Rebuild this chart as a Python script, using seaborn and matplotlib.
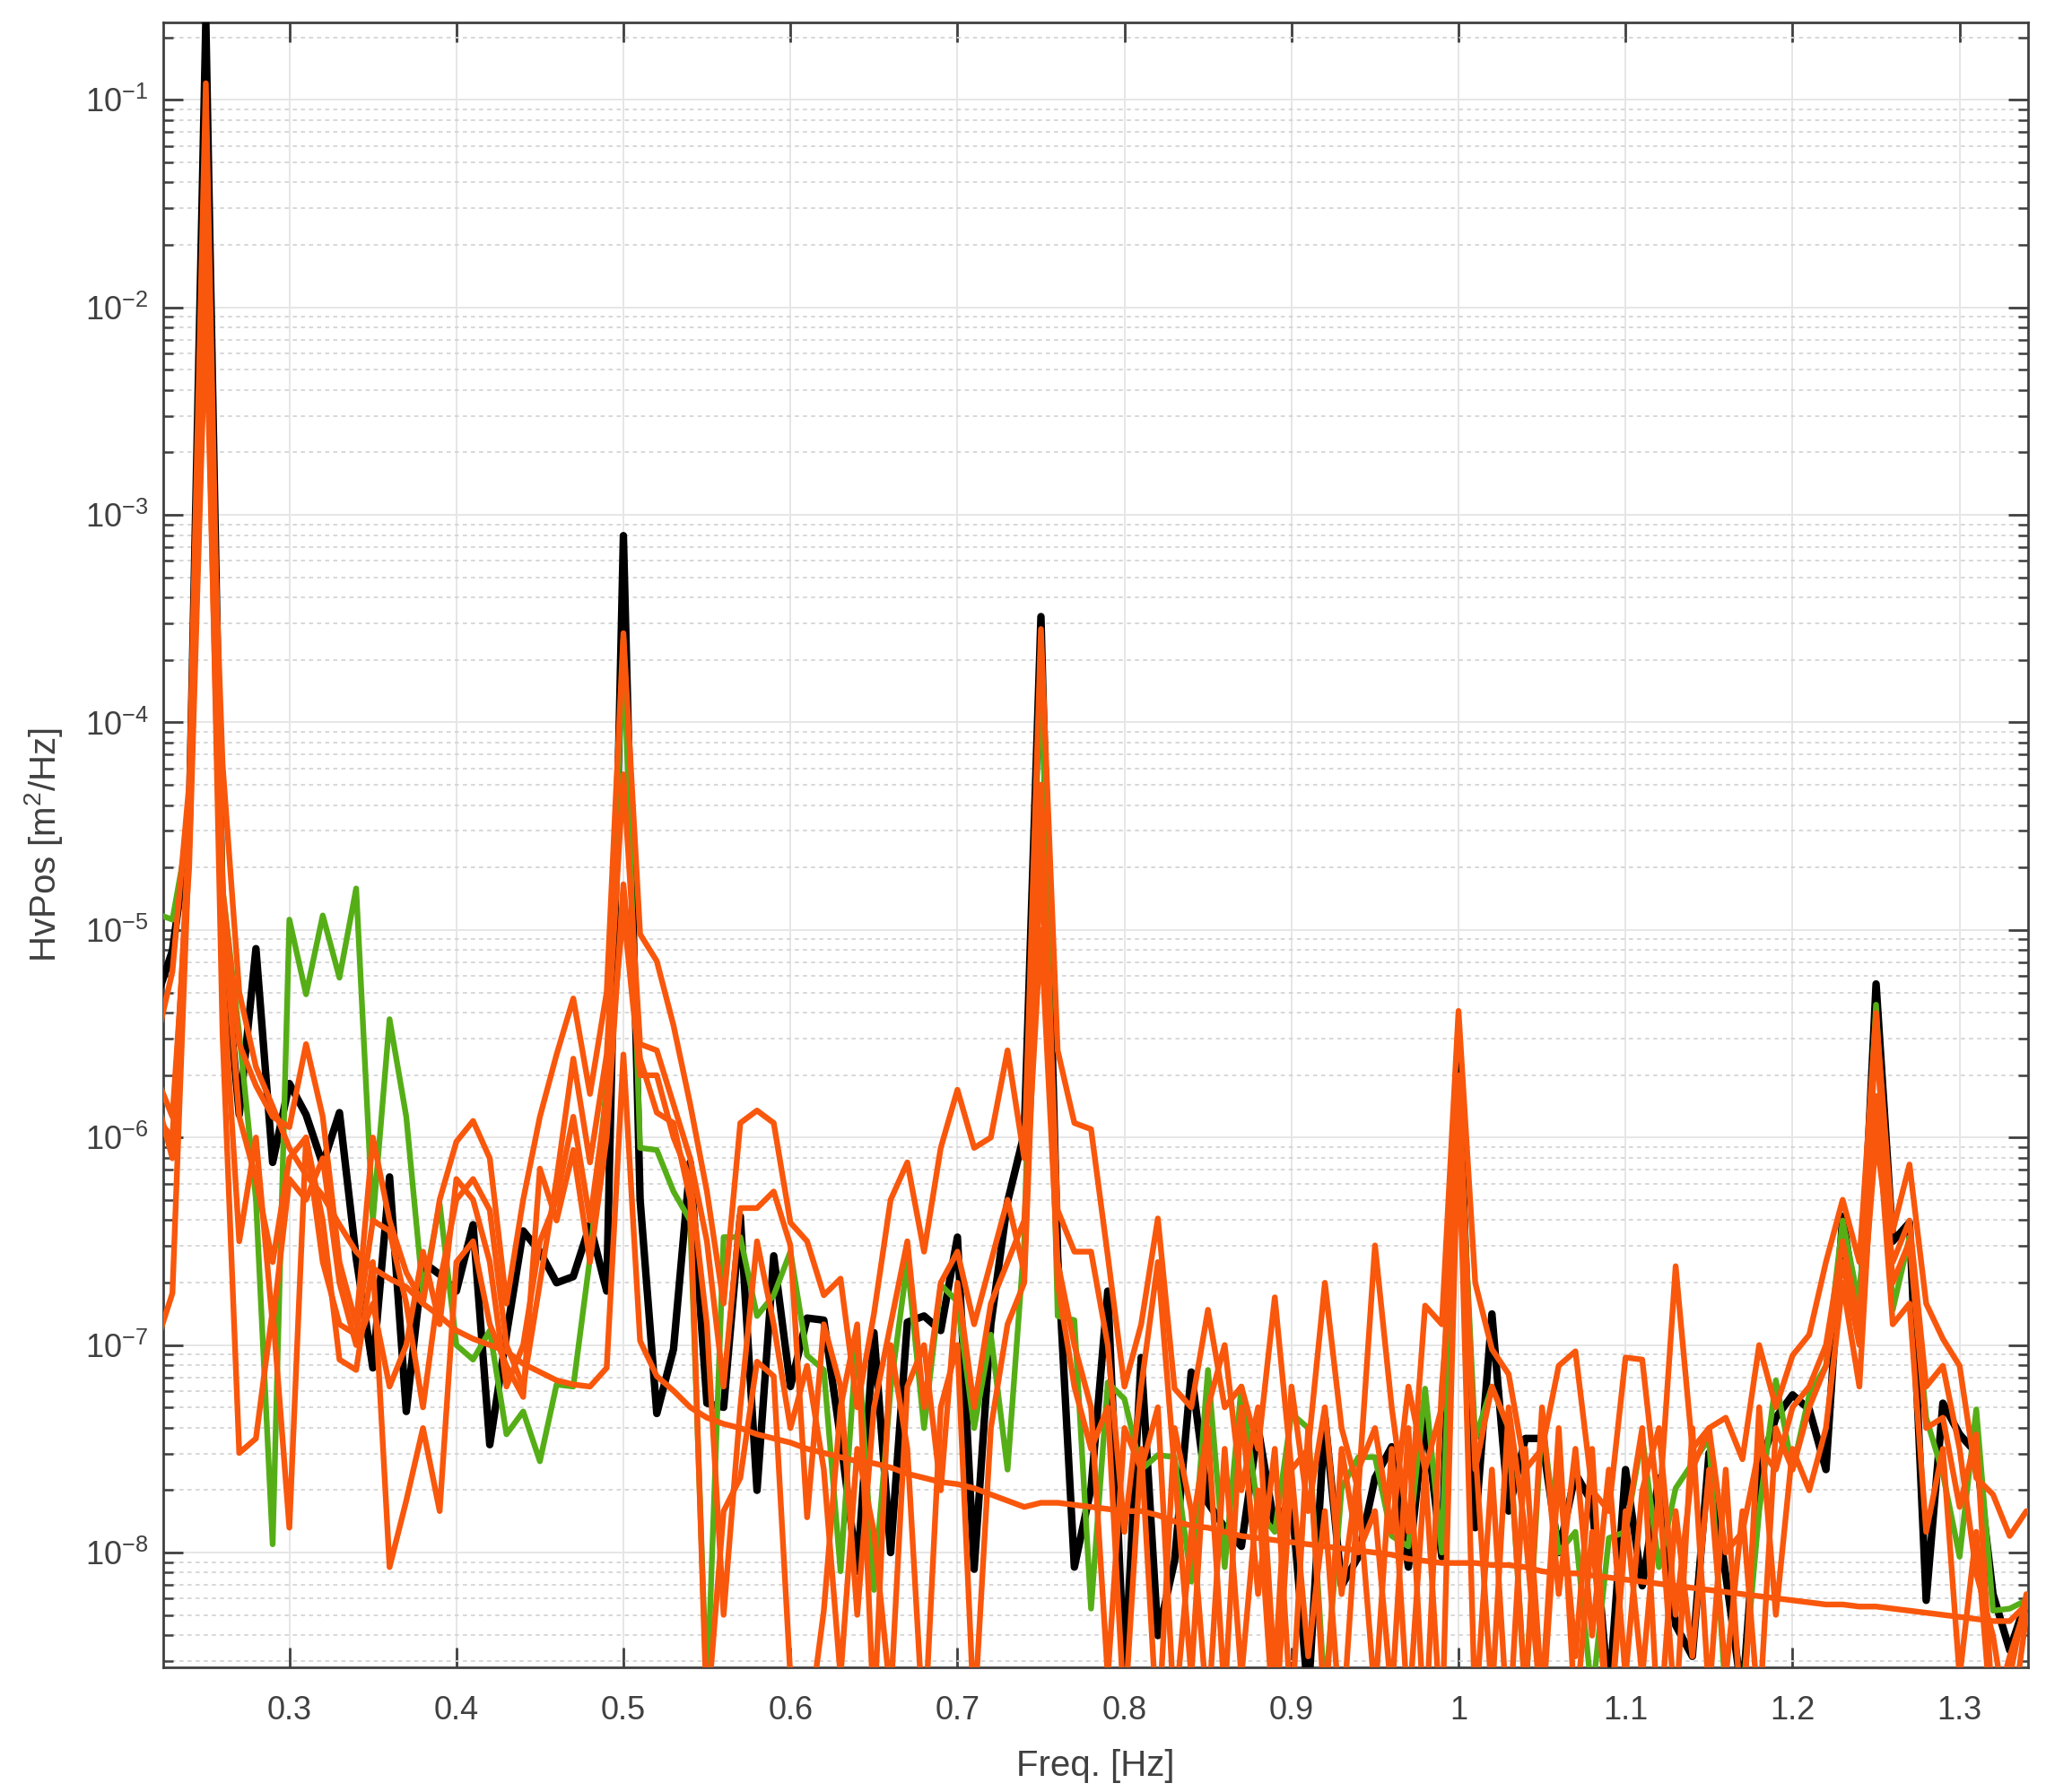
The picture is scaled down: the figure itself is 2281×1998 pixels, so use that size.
import numpy as np
import pandas as pd
import matplotlib
matplotlib.use("Agg")
import matplotlib.pyplot as plt
import seaborn as sns
from matplotlib.ticker import LogLocator, FixedLocator, FuncFormatter, NullFormatter, LogFormatterSciNotation

# ---------------- data (log10 of PSD) ----------------
freq = np.round(np.arange(0.22, 1.3405, 0.01), 2)

black_log = [
    -5.34, -5.1, -4.5, -0.62, -5.0, -5.89, -5.09, -6.12, -5.74, -5.89,
    -6.13, -5.88, -6.58, -7.11, -6.19, -7.32, -6.6, -6.66, -6.74, -6.42,
    -7.48, -6.95, -6.45, -6.55, -6.7, -6.67, -6.42, -6.74, -3.1, -6.3,
    -7.33, -7.02, -6.12, -7.28, -7.3, -6.38, -7.7, -6.57, -7.2, -6.87,
    -6.88, -7.45, -8.09, -6.94, -8.0, -6.89, -6.86, -6.93, -6.48, -8.08,
    -6.9, -6.31, -5.98, -3.49, -6.57, -8.07, -7.69, -6.74, -8.6, -7.06,
    -8.4, -8.04, -7.13, -7.76, -7.88, -7.97, -7.4, -7.88, -7.73, -8.7,
    -7.35, -8.16, -8.02, -7.64, -7.49, -8.07, -7.34, -8.02, -5.62, -7.88,
    -6.85, -7.8, -7.45, -7.45, -8.0, -7.62, -7.76, -8.7, -7.6, -8.16,
    -7.64, -8.35, -8.5, -7.52, -8.11, -8.7, -7.6, -7.35, -7.24, -7.31,
    -7.6, -6.38, -6.93, -5.26, -6.5, -6.41, -8.23, -7.28, -7.43, -7.52,
    -8.2, -8.47, -8.23,
]

green_log = [
    -4.92, -4.95, -4.5, -1.5, -4.8, -5.5, -6.3, -7.96, -4.95, -5.31,
    -4.93, -5.23, -4.8, -6.4, -5.43, -5.9, -6.75, -6.32, -7.0, -7.07,
    -6.93, -7.43, -7.32, -7.56, -7.19, -7.2, -6.58, -5.74, -3.6, -6.05,
    -6.06, -6.26, -6.4, -8.7, -6.48, -6.48, -6.86, -6.76, -6.55, -7.05,
    -7.12, -8.09, -6.93, -8.18, -7.21, -6.6, -7.4, -6.71, -6.79, -7.4,
    -6.95, -7.6, -6.5, -3.6, -6.86, -6.88, -8.27, -7.18, -7.26, -7.6,
    -7.53, -7.54, -8.14, -7.12, -8.07, -7.2, -7.8, -7.9, -7.33, -7.4,
    -8.7, -7.69, -7.54, -7.54, -7.92, -7.97, -7.21, -8.0, -5.79, -7.45,
    -7.2, -7.4, -8.7, -7.36, -8.0, -7.9, -8.7, -7.93, -7.9, -7.44,
    -8.07, -7.69, -7.57, -7.45, -8.7, -8.7, -7.8, -7.17, -7.6, -7.24,
    -7.1, -6.4, -6.81, -5.36, -6.83, -6.48, -7.35, -7.62, -8.02, -7.31,
    -8.28, -8.27, -8.23,
]

orange1_log = [
    -5.55, -5.2, -4.3, -0.92, -4.8, -5.55, -5.75, -5.9, -5.95, -5.55,
    -5.9, -6.6, -6.9, -6.0, -6.4, -6.65, -6.8, -6.3, -6.02, -5.92,
    -6.1, -6.8, -6.3, -5.9, -5.6, -5.33, -5.79, -5.3, -3.57, -5.02,
    -5.15, -5.46, -5.84, -6.26, -6.8, -5.93, -5.87, -5.93, -6.41, -6.5,
    -6.76, -6.68, -7.3, -6.85, -6.3, -6.12, -6.55, -6.05, -5.77, -6.05,
    -6.0, -5.58, -6.1, -3.55, -5.58, -5.93, -5.96, -6.57, -7.2, -6.9,
    -6.39, -7.21, -7.3, -6.83, -7.3, -7.2, -7.5, -6.77, -7.6, -7.5,
    -6.7, -7.4, -7.7, -6.52, -7.3, -7.9, -6.81, -6.9, -5.39, -6.7,
    -7.02, -7.14, -7.6, -7.5, -7.1, -7.03, -7.7, -7.8, -7.06, -7.07,
    -7.8, -6.62, -7.5, -7.4, -7.35, -7.55, -7.0, -7.3, -7.05, -6.95,
    -6.6, -6.3, -6.6, -5.4, -6.45, -6.13, -6.8, -6.97, -7.1, -7.64,
    -7.72, -7.92, -7.8,
]

orange2_log = [
    -5.8, -6.1, -4.5, -1.6, -4.9, -5.9, -6.2, -6.6, -6.1, -6.0,
    -6.6, -6.9, -6.95, -6.4, -6.45, -6.8, -7.3, -6.7, -6.3, -6.2,
    -6.35, -7.0, -7.2, -6.7, -6.2, -5.62, -6.12, -5.6, -4.25, -5.55,
    -5.58, -5.84, -6.1, -6.5, -7.2, -6.34, -6.34, -6.26, -6.52, -7.83,
    -6.9, -7.2, -8.3, -7.3, -6.9, -6.5, -7.3, -6.7, -6.55, -6.9,
    -6.6, -6.3, -6.65, -4.3, -6.35, -6.55, -6.55, -7.0, -7.9, -7.2,
    -6.6, -7.6, -8.6, -7.3, -7.0, -7.7, -7.3, -8.6, -7.2, -7.8,
    -7.3, -8.2, -7.6, -7.4, -7.9, -7.2, -7.6, -7.3, -5.7, -7.6,
    -7.2, -7.4, -8.7, -7.3, -8.2, -7.5, -8.4, -7.6, -8.6, -7.7,
    -7.4, -8.3, -7.6, -7.4, -8.0, -7.9, -7.5, -7.6, -7.3, -7.2,
    -7.0, -6.5, -6.9, -5.5, -6.7, -6.5, -7.4, -7.35, -7.78, -7.43,
    -8.8, -8.5, -8.25,
]

orange3_log = [
    -5.9, -6.0, -4.6, -1.75, -5.5, -7.52, -7.45, -6.83, -7.88, -6.0,
    -6.4, -7.07, -7.12, -6.6, -8.07, -7.75, -7.4, -7.8, -6.6, -6.5,
    -6.9, -7.1, -7.25, -6.15, -6.4, -6.06, -6.6, -6.0, -4.78, -5.62,
    -5.88, -5.93, -6.3, -8.8, -7.8, -7.64, -7.08, -7.15, -8.6, -8.9,
    -8.28, -7.3, -6.9, -8.8, -7.0, -7.5, -8.9, -7.3, -7.0, -8.8,
    -7.4, -6.9, -6.7, -4.6, -6.7, -7.2, -7.5, -7.3, -8.8, -7.5,
    -8.9, -7.4, -7.8, -8.8, -7.5, -8.6, -7.7, -8.9, -7.6, -8.5,
    -7.8, -8.9, -7.7, -8.7, -7.5, -8.8, -7.6, -8.9, -5.9, -8.8,
    -7.6, -8.9, -7.5, -8.7, -7.4, -8.8, -7.9, -8.9, -7.8, -8.6,
    -7.7, -8.8, -7.4, -8.7, -7.6, -8.9, -7.3, -8.3, -7.5, -7.7,
    -7.4, -6.7, -7.2, -5.8, -6.9, -6.8, -7.9, -7.5, -8.6, -7.9,
    -8.9, -8.6, -8.2,
]

orange4_log = [
    -5.7, -5.9, -4.7, -2.0, -5.2, -6.5, -6.0, -6.9, -6.2, -6.3,
    -6.1, -6.7, -7.0, -6.8, -7.2, -7.0, -6.55, -6.9, -6.2, -6.3,
    -6.6, -7.2, -7.0, -6.5, -6.3, -5.9, -6.4, -5.8, -4.9, -5.7,
    -5.7, -6.0, -6.2, -6.9, -8.3, -7.3, -6.5, -6.9, -7.4, -7.1,
    -7.6, -8.6, -7.5, -7.9, -8.7, -7.2, -7.0, -7.7, -6.7, -7.3,
    -6.8, -6.6, -6.4, -5.0, -6.6, -7.0, -7.3, -8.6, -7.4, -7.6,
    -7.3, -8.8, -7.9, -7.4, -8.7, -7.3, -8.2, -7.5, -8.8, -7.4,
    -8.8, -7.5, -8.0, -7.8, -8.7, -7.4, -8.9, -7.2, -6.2, -7.5,
    -8.7, -7.3, -7.9, -8.8, -7.6, -8.5, -7.5, -8.9, -7.9, -7.4,
    -8.9, -7.8, -8.5, -7.6, -8.6, -7.8, -8.8, -7.4, -7.6, -7.3,
    -7.1, -6.6, -7.0, -6.0, -6.6, -6.4, -7.2, -7.1, -7.5, -8.1,
    -8.4, -8.9, -8.3,
]

smooth_log = [
    -7.0, -6.75, -4.6, -1.9, -4.2, -5.3, -5.66, -5.85, -6.05, -6.18,
    -6.28, -6.42, -6.55, -6.63, -6.68, -6.72, -6.8, -6.86, -6.93, -6.97,
    -7.0, -7.03, -7.09, -7.13, -7.17, -7.19, -7.2, -7.11, -5.6, -6.98,
    -7.15, -7.22, -7.3, -7.35, -7.38, -7.4, -7.43, -7.45, -7.47, -7.5,
    -7.52, -7.54, -7.56, -7.57, -7.59, -7.62, -7.64, -7.66, -7.67, -7.69,
    -7.72, -7.75, -7.78, -7.76, -7.76, -7.77, -7.78, -7.79, -7.8, -7.8,
    -7.82, -7.85, -7.87, -7.88, -7.9, -7.92, -7.93, -7.94, -7.95, -7.96,
    -7.97, -7.98, -7.99, -8.0, -8.01, -8.03, -8.04, -8.05, -8.05, -8.05,
    -8.06, -8.06, -8.07, -8.09, -8.1, -8.1, -8.11, -8.12, -8.13, -8.14,
    -8.15, -8.16, -8.17, -8.18, -8.19, -8.2, -8.21, -8.22, -8.23, -8.24,
    -8.25, -8.25, -8.26, -8.26, -8.27, -8.28, -8.29, -8.3, -8.31, -8.32,
    -8.33, -8.33, -8.25,
]

x_ticks = [0.3, 0.4, 0.5, 0.6, 0.7, 0.8, 0.9, 1.0, 1.1, 1.2, 1.3]
y_ticks = [1e-8, 1e-7, 1e-6, 1e-5, 1e-4, 1e-3, 1e-2, 1e-1]
x_label = "Freq. [Hz]"
y_label = "HvPos [m$^2$/Hz]"

series = [
    ("black", black_log, "#000000", 3.0),
    ("green", green_log, "#56ae17", 2.3),
    ("orange1", orange1_log, "#f9570c", 2.3),
    ("orange2", orange2_log, "#f9570c", 2.3),
    ("orange3", orange3_log, "#f9570c", 2.3),
    ("orange4", orange4_log, "#f9570c", 2.3),
    ("smooth", smooth_log, "#f9570c", 2.3),
]

# ---------------- style ----------------
sns.set_theme(style="white")
plt.rcParams['font.family'] = ['Liberation Sans', 'DejaVu Sans']
plt.rcParams['mathtext.fontset'] = 'custom'
plt.rcParams['mathtext.rm'] = 'Liberation Sans'
plt.rcParams['mathtext.it'] = 'Liberation Sans:italic'
plt.rcParams['mathtext.bf'] = 'Liberation Sans:bold'
plt.rcParams['axes.unicode_minus'] = False

TXT = "#404040"

fig = plt.figure(figsize=(2281 / 200, 1998 / 200), dpi=200)
ax = fig.add_axes([182 / 2281, 1 - 1859 / 1998, (2261 - 182) / 2281, (1859 - 25) / 1998])

for name, vals, col, lw in series:
    df = pd.DataFrame({"freq": freq, "psd": 10.0 ** np.asarray(vals)})
    sns.lineplot(data=df, x="freq", y="psd", ax=ax, color=col, linewidth=lw,
                 estimator=None, sort=False, legend=False, zorder=3)

ax.set_yscale("log")
ax.set_xlim(0.2245, 1.341)
ax.set_ylim(2.8e-9, 0.236)

ax.xaxis.set_major_locator(FixedLocator(x_ticks))
ax.xaxis.set_major_formatter(FuncFormatter(lambda v, p: f"{v:g}"))
ax.yaxis.set_major_locator(FixedLocator(y_ticks))
ax.yaxis.set_major_formatter(LogFormatterSciNotation())
ax.yaxis.set_minor_locator(LogLocator(base=10, subs=np.arange(2, 10), numticks=200))
ax.yaxis.set_minor_formatter(NullFormatter())

ax.grid(True, which="major", axis="both", color="#e6e6e6", linewidth=0.7, linestyle="-", zorder=0)
ax.grid(True, which="minor", axis="y", color="#d4d4d4", linewidth=0.65, linestyle=(0, (2.5, 2.5)), zorder=0)
ax.set_axisbelow(True)

for sp in ax.spines.values():
    sp.set_color(TXT)
    sp.set_linewidth(1.0)
    sp.set_visible(True)

ax.tick_params(which="major", direction="in", length=8, width=1.0, color=TXT,
               top=True, right=True, bottom=True, left=True,
               labelsize=13, labelcolor=TXT)
ax.tick_params(axis="x", which="major", pad=11)
ax.tick_params(axis="y", which="major", pad=6)
ax.tick_params(which="minor", direction="in", length=4, width=0.9, color=TXT,
               left=True, right=True)

ax.set_xlabel(x_label, fontsize=14.5, color=TXT, labelpad=9)
ax.set_ylabel(y_label, fontsize=14.5, color=TXT, labelpad=8)

fig.savefig("out.png", dpi=200)
